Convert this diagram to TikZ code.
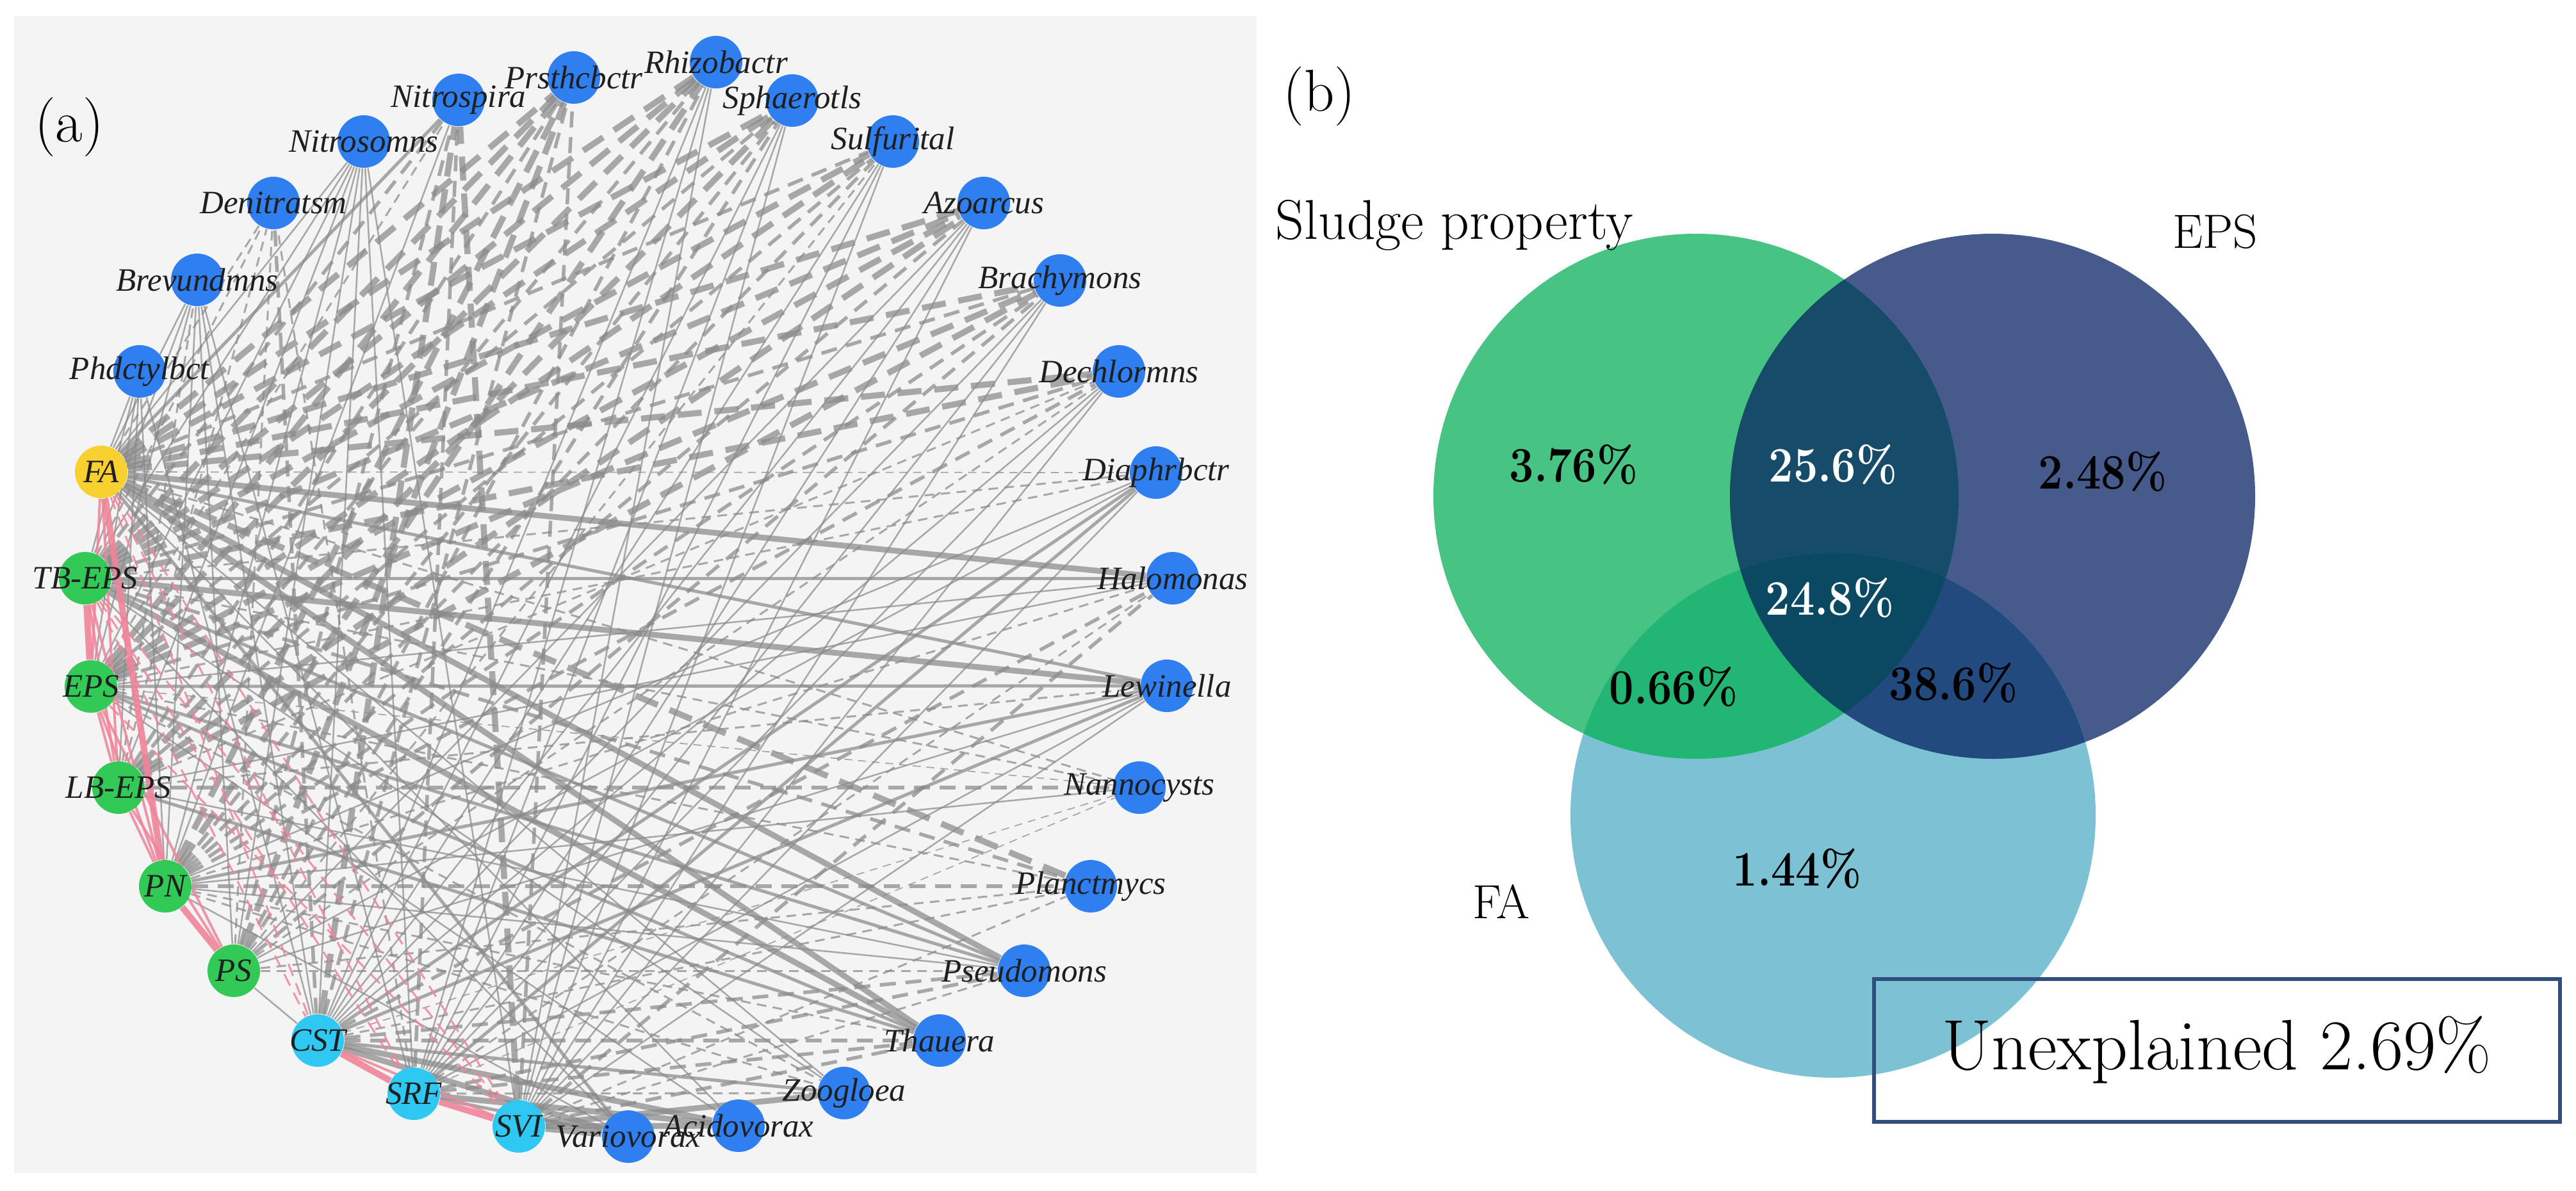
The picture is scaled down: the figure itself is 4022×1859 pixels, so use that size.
\documentclass[tikz,border=0pt]{standalone}
\usepackage{fontspec}
\newfontfamily\netfont{Liberation Serif}
\definecolor{bgpanel}{HTML}{F4F4F4}
\definecolor{gblue}{HTML}{2F7FF0}
\definecolor{gyellow}{HTML}{F8D030}
\definecolor{ggreen}{HTML}{33C957}
\definecolor{gcyan}{HTML}{2FC8F2}
\definecolor{edgegray}{HTML}{8A8A8A}
\definecolor{pinkedge}{HTML}{F0849A}
\definecolor{vS}{HTML}{47C483}
\definecolor{vE}{HTML}{465B8B}
\definecolor{vF}{HTML}{7CC2D4}
\definecolor{vSE}{HTML}{164B69}
\definecolor{vSF}{HTML}{23B574}
\definecolor{vEF}{HTML}{234A7E}
\definecolor{vSEF}{HTML}{0B4963}
\definecolor{boxblue}{HTML}{2F4E7D}
\pgfdeclarelayer{bg}
\pgfdeclarelayer{edges}
\pgfdeclarelayer{fg}
\pgfsetlayers{bg,edges,main,fg}
\newcommand{\pctbox}[1]{\scalebox{0.88}[1]{#1}}
\tikzset{
  nd/.style={circle, inner sep=0pt, minimum size=16.4pt},
  gen/.style={nd, fill=gblue},
  fav/.style={nd, fill=gyellow},
  epsv/.style={nd, fill=ggreen},
  slv/.style={nd, fill=gcyan},
  lab/.style={font=\netfont\itshape\fontsize{10.2}{12}\selectfont, inner sep=0pt, text=black!88},
  eg/.style={draw=edgegray, draw opacity=0.72},
  ps1/.style={eg, line width=0.5pt},
  ps2/.style={eg, line width=1.0pt},
  ps3/.style={eg, line width=1.8pt},
  ng0/.style={eg, line width=0.35pt, dash pattern=on 2.5pt off 1.8pt},
  ng1/.style={eg, line width=0.6pt, dash pattern=on 3pt off 2pt},
  ng2/.style={eg, line width=1.1pt, dash pattern=on 5pt off 3pt},
  ng3/.style={eg, line width=1.9pt, dash pattern=on 7.5pt off 4pt},
  pk1/.style={draw=pinkedge, draw opacity=0.85, line width=0.8pt},
  pk3/.style={draw=pinkedge, draw opacity=0.9, line width=2pt},
  pkd/.style={draw=pinkedge, draw opacity=0.85, line width=0.6pt, dash pattern=on 4pt off 2.5pt},
  pct/.style={font=\bfseries\fontsize{15.5}{18}\selectfont, inner sep=0pt},
  vlab/.style={font=\fontsize{15}{18}\selectfont, inner sep=0pt},
  plab/.style={font=\fontsize{18.5}{22}\selectfont, inner sep=0pt},
  ubox/.style={draw=boxblue, line width=1.2pt, minimum width=214.2pt, minimum height=44.6pt, inner sep=0pt, font=\fontsize{22.3}{26}\selectfont}
}
\begin{document}
\begin{tikzpicture}[x=0.2pt,y=-0.2pt]
\useasboundingbox (0,0) rectangle (4022,1859);
\begin{pgfonlayer}{bg}
\fill[white] (0,0) rectangle (4022,1859);
\fill[bgpanel] (22,25) rectangle (1962,1832);
\end{pgfonlayer}
\node[plab] (la) at (108,198) {(a)};
% genera
\node[gen] (Phd) at (218,580) {};
\node[gen] (Brev) at (308,437) {};
\node[gen] (Deni) at (427,317) {};
\node[gen] (Nsom) at (568,221) {};
\node[gen] (Nspi) at (716,156) {};
\node[gen] (Prst) at (896,121) {};
\node[gen] (Rhiz) at (1118,97) {};
\node[gen] (Spha) at (1237,157) {};
\node[gen] (Sulf) at (1394,221) {};
\node[gen] (Azoa) at (1536,317) {};
\node[gen] (Brac) at (1655,438) {};
\node[gen] (Dech) at (1747,580) {};
\node[gen] (Diap) at (1805,738) {};
\node[gen] (Halo) at (1831,903) {};
\node[gen] (Lewi) at (1822,1071) {};
\node[gen] (Nann) at (1779,1230) {};
\node[gen] (Plan) at (1703,1384) {};
\node[gen] (Pseu) at (1599,1516) {};
\node[gen] (Thau) at (1467,1625) {};
\node[gen] (Zoog) at (1318,1707) {};
\node[gen] (Acid) at (1153,1758) {};
\node[gen] (Vari) at (981,1775) {};
% variables
\node[fav] (FA) at (158,737) {};
\node[epsv] (TB) at (133,903) {};
\node[epsv] (EPS) at (142,1072) {};
\node[epsv] (LB) at (185,1230) {};
\node[epsv] (PN) at (258,1384) {};
\node[epsv] (PS) at (365,1516) {};
\node[slv] (CST) at (496,1625) {};
\node[slv] (SRF) at (646,1708) {};
\node[slv] (SVI) at (810,1759) {};
\begin{pgfonlayer}{fg}
\foreach \n/\t in {Phd/Phdctylbct, Brev/Brevundmns, Deni/Denitratsm, Nsom/Nitrosomns, Nspi/Nitrospira, Prst/Prsthcbctr, Rhiz/Rhizobactr, Spha/Sphaerotls, Sulf/Sulfurital, Azoa/Azoarcus, Brac/Brachymons, Dech/Dechlormns, Diap/Diaphrbctr, Halo/Halomonas, Lewi/Lewinella, Nann/Nannocysts, Plan/Planctmycs, Pseu/Pseudomons, Thau/Thauera, Zoog/Zoogloea, Acid/Acidovorax, Vari/Variovorax, FA/FA, TB/TB-EPS, EPS/EPS, LB/LB-EPS, PN/PN, PS/PS, CST/CST, SRF/SRF, SVI/SVI}
  \node[lab] (\n-l) at (\n) {\t};
\end{pgfonlayer}
\begin{pgfonlayer}{edges}
\foreach \a/\b in {FA/Phd, FA/Brev, FA/Nsom, FA/Zoog, FA/Acid, TB/Phd, TB/Brev, TB/Nsom, TB/Zoog, TB/Vari, EPS/Phd, EPS/Brev, EPS/Nsom, EPS/Halo, EPS/Acid, LB/Phd, LB/Nsom, LB/Halo, LB/Pseu, PN/Phd, PN/Brev, PN/Nsom, PN/Nspi, PN/Diap, PN/Nann, PN/Pseu, PN/Vari, PS/Nsom, PS/Brev, PS/Azoa, PS/Diap, PS/Lewi, PS/CST, CST/Phd, CST/Brev, CST/Nsom, CST/Rhiz, CST/Spha, CST/Sulf, CST/Azoa, CST/Brac, CST/Dech, SRF/Brev, SRF/Nsom, SRF/Rhiz, SRF/Spha, SRF/Sulf, SRF/Azoa, SRF/Brac, SRF/Dech, SRF/Lewi, SVI/Nsom, SVI/Rhiz, SVI/Spha, SVI/Sulf, SVI/Azoa, SVI/Brac, SVI/Dech, SVI/Diap, SVI/Lewi}
  \draw[ps1] (\a) -- (\b);
\foreach \a/\b in {FA/Nspi, FA/Lewi, FA/Vari, TB/Halo, TB/Pseu, EPS/Lewi, EPS/Pseu, EPS/Thau, LB/Thau, PN/Lewi, CST/Diap, CST/Lewi, CST/Zoog, SRF/Diap, SRF/Vari}
  \draw[ps2] (\a) -- (\b);
\foreach \a/\b in {FA/Halo, FA/Pseu, FA/Thau, TB/Lewi, TB/Thau, CST/Acid, CST/Vari, SRF/Acid, SVI/Zoog, SVI/Acid, SVI/Vari}
  \draw[ps3] (\a) -- (\b);
\foreach \a/\b in {FA/Diap, EPS/Nann, CST/Nann, SRF/Nann}
  \draw[ng0] (\a) -- (\b);
\foreach \a/\b in {FA/Deni, FA/Nann, TB/Deni, TB/Diap, TB/Nann, EPS/Nspi, EPS/Diap, EPS/Plan, EPS/Zoog, LB/Brev, LB/Deni, LB/Dech, LB/Lewi, PN/Halo, PN/Thau, PN/Zoog, PS/Deni, PS/Sulf, PS/Dech, PS/Plan, PS/Pseu, CST/Plan, SRF/Deni, SRF/Halo, SRF/Zoog, SVI/Plan, SVI/Pseu}
  \draw[ng1] (\a) -- (\b);
\foreach \a/\b in {FA/Sulf, TB/Nspi, TB/Brac, TB/Plan, EPS/Spha, EPS/Dech, LB/Prst, LB/Rhiz, LB/Sulf, LB/Nann, PN/Spha, PN/Sulf, PN/Brac, PN/Plan, PN/Azoa, PN/Dech, PS/Nspi, PS/Rhiz, PS/Spha, PS/Brac, CST/Deni, CST/Prst, CST/Halo, CST/Pseu, CST/Thau, SRF/Nspi, SRF/Pseu, SRF/Thau, SVI/Prst, SVI/Halo, SVI/Thau}
  \draw[ng2] (\a) -- (\b);
\foreach \a/\b in {FA/Prst, FA/Rhiz, FA/Spha, FA/Azoa, FA/Brac, FA/Dech, FA/Plan, TB/Prst, TB/Rhiz, TB/Spha, TB/Sulf, TB/Azoa, TB/Dech, EPS/Prst, EPS/Rhiz, EPS/Sulf, EPS/Brac, EPS/Azoa, LB/Azoa, LB/Spha, LB/Brac, PN/Rhiz, PN/Prst, PS/Prst, CST/Nspi, SVI/Nspi}
  \draw[ng3] (\a) -- (\b);
\foreach \a/\b in {FA/EPS, FA/LB, TB/LB, TB/PN, EPS/LB, EPS/PN, LB/PN, EPS/PS, CST/SVI, LB/PS}
  \draw[pk1] (\a) -- (\b);
\foreach \a/\b in {FA/PN, TB/EPS, PN/PS, CST/SRF, SRF/SVI}
  \draw[pk3] (\a) -- (\b);
\foreach \a/\b in {FA/CST, FA/SRF, FA/SVI, TB/CST, TB/SRF, TB/SVI, EPS/SVI}
  \draw[pkd] (\a) -- (\b);
\end{pgfonlayer}
% panel (b)
\node[plab] (lb) at (2060,150) {(b)};
\coordinate (cS) at (2648,775);
\coordinate (cE) at (3111,775);
\coordinate (cF) at (2862,1273);
\fill[vS] (cS) circle[radius=82pt];
\fill[vE] (cE) circle[radius=82pt];
\fill[vF] (cF) circle[radius=82pt];
\begin{scope}
  \clip (cS) circle[radius=82pt];
  \fill[vSE] (cE) circle[radius=82pt];
  \fill[vSF] (cF) circle[radius=82pt];
\end{scope}
\begin{scope}
  \clip (cE) circle[radius=82pt];
  \fill[vEF] (cF) circle[radius=82pt];
\end{scope}
\begin{scope}
  \clip (cS) circle[radius=82pt];
  \clip (cE) circle[radius=82pt];
  \fill[vSEF] (cF) circle[radius=82pt];
\end{scope}
\node[vlab, font=\fontsize{17.5}{20}\selectfont] (tS) at (2271,352) {Sludge property};
\node[vlab] (tE) at (3459,362) {EPS};
\node[vlab] (tF) at (2344,1408) {FA};
\node[pct] (p1) at (2457,726) {\pctbox{3.76\%}};
\node[pct, text=white] (p2) at (2862,726) {\pctbox{25.6\%}};
\node[pct] (p3) at (3283,737) {\pctbox{2.48\%}};
\node[pct, text=white] (p4) at (2857,934) {\pctbox{24.8\%}};
\node[pct] (p5) at (2613,1073) {\pctbox{0.66\%}};
\node[pct] (p6) at (3050,1067) {\pctbox{38.6\%}};
\node[pct] (p7) at (2806,1357) {\pctbox{1.44\%}};
\node[ubox] (ub) at (3461,1640) {Unexplained 2.69\%};
\end{tikzpicture}
\end{document}
